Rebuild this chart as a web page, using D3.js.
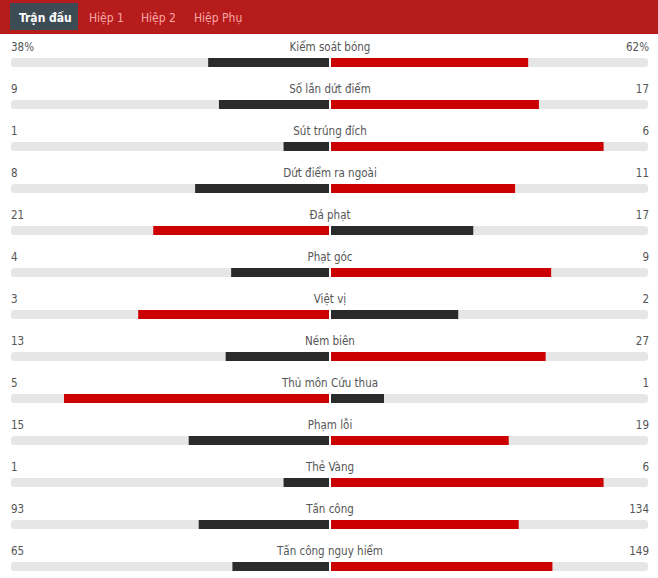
<!DOCTYPE html>
<html><head><meta charset="utf-8">
<script src="https://cdn.jsdelivr.net/npm/d3@7"></script>
<style>body{margin:0;background:#fff;}svg{display:block;}</style>
</head><body>
<script>
const tabs = ["Trận đấu", "Hiệp 1", "Hiệp 2", "Hiệp Phụ"];
const categories = ["Kiểm soát bóng","Số lần dứt điểm","Sút trúng đích","Dứt điểm ra ngoài","Đá phạt","Phạt góc","Việt vị","Ném biên","Thủ môn Cứu thua","Phạm lỗi","Thẻ Vàng","Tấn công","Tấn công nguy hiểm"];
const homeValues = [38, 9, 1, 8, 21, 4, 3, 13, 5, 15, 1, 93, 65];
const awayValues = [62, 17, 6, 11, 17, 9, 2, 27, 1, 19, 6, 134, 149];
const unitSuffix = ["%", "", "", "", "", "", "", "", "", "", "", "", ""];

const W = 658, H = 578;
const svg = d3.select("body").append("svg").attr("width", W).attr("height", H);
const font = "DejaVu Sans Condensed, DejaVu Sans, sans-serif";

// header
svg.append("rect").attr("x",0).attr("y",0).attr("width",W).attr("height",34).attr("fill","#b71c1c");
const tabX = [19, 89, 141, 194];
svg.append("rect").attr("x",10).attr("y",3).attr("width",68).attr("height",27).attr("fill","#3d4b54");
svg.selectAll("text.tab").data(tabs).join("text")
  .attr("class","tab")
  .attr("x",(d,i)=>tabX[i]).attr("y",22)
  .attr("font-family",font)
  .attr("font-size",12)
  .attr("font-weight",(d,i)=>i===0?"bold":"normal")
  .attr("fill",(d,i)=>i===0?"#ffffff":"#f7a8a8")
  .text(d=>d);

const y = d3.scaleBand().domain(categories).range([37, 37+42*categories.length]).paddingInner(0);
const center = 330, leftStart = 11, rightEnd = 648;
const g = svg.append("g");
const rows = g.selectAll("g.row").data(categories.map((c,i)=>({c, l:homeValues[i], r:awayValues[i], s:unitSuffix[i]}))).join("g")
  .attr("class","row").attr("transform",d=>`translate(0,${y(d.c)})`);

const barY = 21, barH = 9;
rows.append("rect").attr("x",leftStart).attr("y",barY).attr("width",rightEnd-leftStart).attr("height",barH)
  .attr("rx",3).attr("fill","#e6e6e6");
rows.each(function(d){
  const sel = d3.select(this);
  const total = d.l + d.r;
  const xl = d3.scaleLinear().domain([0,total]).range([center-1, leftStart]);
  const xr = d3.scaleLinear().domain([0,total]).range([center+1, rightEnd+1]);
  const lc = d.l > d.r ? "#cc0000" : "#2b2b2b";
  const rc = d.r > d.l ? "#cc0000" : "#2b2b2b";
  sel.append("rect").attr("x",xl(d.l)).attr("y",barY).attr("width",xl(0)-xl(d.l)).attr("height",barH).attr("fill",lc);
  sel.append("rect").attr("x",xr(0)).attr("y",barY).attr("width",xr(d.r)-xr(0)).attr("height",barH).attr("fill",rc);
  sel.append("rect").attr("x",center-1).attr("y",barY).attr("width",2).attr("height",barH).attr("fill","#ffffff");
});
rows.append("text").attr("x",11).attr("y",14).attr("font-family",font).attr("font-size",11.5).attr("fill","#555")
  .text(d=>d.l+d.s);
rows.append("text").attr("x",649).attr("y",14).attr("text-anchor","end").attr("font-family",font).attr("font-size",11.5).attr("fill","#555")
  .text(d=>d.r+d.s);
rows.append("text").attr("x",center).attr("y",14).attr("text-anchor","middle").attr("font-family",font).attr("font-size",11.5).attr("fill","#555")
  .text(d=>d.c);
</script>
</body></html>
